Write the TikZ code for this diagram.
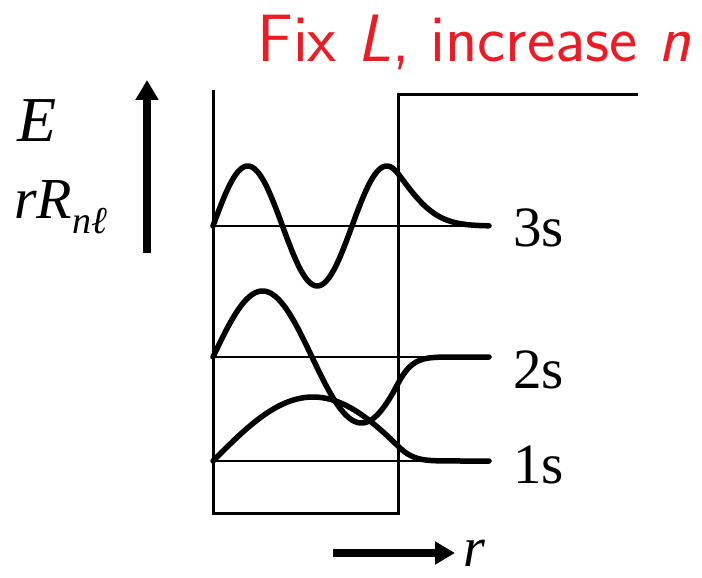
\documentclass[tikz,border=0pt]{standalone}
\usepackage{fontspec}
\setmainfont{Liberation Serif}
\usetikzlibrary{arrows.meta}
\definecolor{titlered}{RGB}{237,28,36}
\begin{document}
\begin{tikzpicture}[x=1pt,y=-1pt,
  wave/.style={line width=5.5pt, line join=round, line cap=round},
  thinline/.style={line width=1.8pt},
  wall/.style={line width=3pt, line join=miter},
  lbl/.style={font=\fontsize{57}{57}\selectfont, anchor=base west, inner sep=0pt},
  bigarrow/.style={line width=8pt, -{Triangle[length=20pt,width=22pt]}}]
\useasboundingbox (0,0) rectangle (702,578);
% title
\node[font=\sffamily\fontsize{67}{67}\selectfont, text=titlered, anchor=base west, inner sep=0pt] (title) at (257,62) {Fix \textit{L}, increase \textit{n}};
% well
\coordinate (wl) at (213,90);
\coordinate (bl) at (213,513);
\coordinate (br) at (398,513);
\coordinate (wr) at (398,95);
\coordinate (te) at (638,95);
\draw[wall] (wl) -- (bl) -- (br) -- (wr) -- (te);
% baselines
\coordinate (b3a) at (213,226); \coordinate (b3b) at (489,226);
\coordinate (b2a) at (213,357); \coordinate (b2b) at (489,357);
\coordinate (b1a) at (213,461); \coordinate (b1b) at (489,461);
\draw[thinline] (b3a) -- (b3b);
\draw[thinline] (b2a) -- (b2b);
\draw[thinline] (b1a) -- (b1b);
% waves
\draw[wave] plot[domain=213:398, samples=90] (\x, {226-60*sin((\x-213)/69.5*180)})
  -- plot[domain=398:489, samples=60] (\x, {226-52.4*exp(-(\x-398)/40-((\x-398)/50)*((\x-398)/50))});
\draw[wave] plot[domain=213:398, samples=90] (\x, {357-66*sin((\x-213)/99*180)})
  -- plot[domain=398:489, samples=60] (\x, {357+26.5*exp(-(\x-398)/14-((\x-398)/30)*((\x-398)/30))});
\draw[wave] plot[domain=213:398, samples=90] (\x, {461-64*sin((\x-213)/200*180)})
  -- plot[domain=398:489, samples=60] (\x, {461-14.9*exp(-(\x-398)/15-((\x-398)/30)*((\x-398)/30))});
% labels
\node[lbl] (l3) at (513,246) {3s};
\node[lbl] (l2) at (513,388) {2s};
\node[lbl] (l1) at (513,483) {1s};
\node[font=\itshape\fontsize{64}{64}\selectfont, anchor=base west, inner sep=0pt] (E) at (17,142) {E};
\node[font=\itshape\fontsize{58}{58}\selectfont, anchor=base west, inner sep=0pt] (rR) at (14,218) {rR\raisebox{-0.26em}{\fontsize{38}{38}\selectfont nℓ}};
% arrows
\coordinate (ua) at (147,253); \coordinate (ub) at (147,80);
\draw[bigarrow] (ua) -- (ub);
\coordinate (ra) at (333,553); \coordinate (rb) at (455,553);
\draw[bigarrow] (ra) -- (rb);
\node[font=\itshape\fontsize{56}{56}\selectfont, anchor=base west, inner sep=0pt, text depth=0pt] (r) at (463,566) {r};
\end{tikzpicture}
\end{document}
